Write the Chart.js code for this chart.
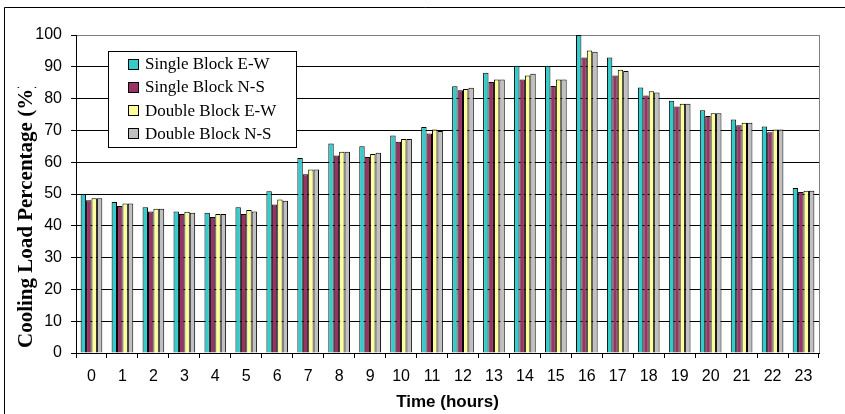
<!DOCTYPE html>
<html>
<head>
<meta charset="utf-8">
<script src="https://cdn.jsdelivr.net/npm/chart.js@4/dist/chart.umd.min.js"></script>
<style>
  html, body { margin: 0; padding: 0; background: #fff; }
  #wrap { width: 845px; height: 414px; position: relative; }
</style>
</head>
<body>
<div id="wrap"><canvas id="c" width="845" height="414"></canvas></div>
<script>
// Hourly cooling load, percent of the daily peak
const hours = ['0','1','2','3','4','5','6','7','8','9','10','11','12','13','14','15','16','17','18','19','20','21','22','23'];

const singleEW = [50.0, 47.5, 45.8, 44.5, 44.1, 45.8, 50.9, 61.3, 65.9, 65.0, 68.4, 71.1, 83.9, 88.1, 90.3, 90.3, 100, 92.9, 83.5, 79.3, 76.3, 73.4, 71.2, 51.9];
const singleNS = [48.0, 46.2, 44.5, 43.7, 42.8, 43.7, 46.7, 56.2, 62.1, 61.6, 66.4, 69.0, 82.6, 85.2, 86.0, 84.0, 92.9, 87.3, 81.0, 77.5, 74.5, 71.6, 69.4, 50.6];
const doubleEW = [48.7, 47.0, 45.4, 44.4, 43.7, 45.0, 48.3, 57.7, 63.3, 62.6, 67.3, 70.3, 83.0, 86.0, 87.3, 86.0, 95.1, 89.1, 82.3, 78.4, 75.4, 72.4, 70.3, 51.0];
const doubleNS = [48.7, 47.0, 45.4, 44.1, 43.7, 44.5, 47.9, 57.7, 63.3, 63.0, 67.3, 69.8, 83.4, 86.0, 87.8, 86.0, 94.7, 88.7, 81.9, 78.4, 75.4, 72.4, 70.3, 51.0];

const seriesNames = ['Single Block E-W', 'Single Block N-S', 'Double Block E-W', 'Double Block N-S'];
const seriesColors = ['#33CCCC', '#993366', '#FFFF99', '#C0C0C0'];
const yTicks = [0, 10, 20, 30, 40, 50, 60, 70, 80, 90, 100];

const xTitle = 'Time (hours)';
const yTitle = 'Cooling Load Percentage (%)';

const seriesValues = [singleEW, singleNS, doubleEW, doubleNS];

// Outer frame, plot border, rotated y title and boxed legend
const decorations = {
  id: 'decorations',
  beforeDraw(chart) {
    const ctx = chart.ctx;
    ctx.save();
    ctx.fillStyle = '#fff';
    ctx.fillRect(0, 0, chart.width, chart.height);
    ctx.strokeStyle = '#000';
    ctx.lineWidth = 1;
    ctx.beginPath();
    ctx.moveTo(4.5, chart.height + 5);
    ctx.lineTo(4.5, 7.5);
    ctx.lineTo(chart.width + 5, 7.5);
    ctx.stroke();
    ctx.restore();
  },
  afterDatasetsDraw(chart) {
    const ctx = chart.ctx;
    const a = chart.chartArea;
    ctx.save();
    // right-hand plot border
    ctx.strokeStyle = '#808080';
    ctx.lineWidth = 1;
    ctx.beginPath();
    ctx.moveTo(Math.round(a.right) + 0.5, a.top);
    ctx.lineTo(Math.round(a.right) + 0.5, a.bottom);
    ctx.stroke();

    // y axis title, cut off where the title area ends
    ctx.save();
    ctx.beginPath();
    ctx.rect(0, 87, 60, 300);
    ctx.clip();
    ctx.translate(32, 348);
    ctx.rotate(-Math.PI / 2);
    ctx.font = 'bold 21px "Liberation Serif", "Times New Roman", serif';
    ctx.fillStyle = '#000';
    ctx.textAlign = 'left';
    ctx.textBaseline = 'alphabetic';
    ctx.fillText(yTitle, 0, 0);
    ctx.restore();

    // legend box
    const lx = 108.5, ly = 51.5, lw = 188, lh = 96;
    ctx.fillStyle = '#fff';
    ctx.fillRect(lx, ly, lw, lh);
    ctx.strokeStyle = '#000';
    ctx.strokeRect(lx, ly, lw, lh);
    ctx.font = '17px "Liberation Serif", "Times New Roman", serif';
    ctx.textAlign = 'left';
    ctx.textBaseline = 'middle';
    chart.data.datasets.forEach((ds, i) => {
      const cy = 63.5 + i * 23.3;
      const sx = 128.5, sy = Math.round(cy - 5) + 0.5;
      ctx.fillStyle = ds.backgroundColor;
      ctx.fillRect(sx, sy, 10, 10);
      ctx.strokeStyle = '#000';
      ctx.strokeRect(sx, sy, 10, 10);
      ctx.fillStyle = '#000';
      ctx.fillText(ds.label, 145, cy + 1);
    });
    ctx.restore();
  }
};

new Chart(document.getElementById('c'), {
  type: 'bar',
  data: {
    labels: hours,
    datasets: seriesValues.map((vals, i) => ({
      label: seriesNames[i],
      data: vals,
      backgroundColor: seriesColors[i],
      borderColor: '#000',
      borderWidth: 1,
      borderSkipped: 'bottom',
      categoryPercentage: 0.70,
      barPercentage: 1.0
    }))
  },
  options: {
    responsive: false,
    animation: false,
    devicePixelRatio: 1,
    layout: { padding: { top: 35, right: 26, bottom: 0, left: 0 } },
    plugins: {
      legend: { display: false },
      tooltip: { enabled: false }
    },
    scales: {
      x: {
        offset: true,
        grid: {
          display: true,
          offset: true,
          drawOnChartArea: false,
          drawTicks: true,
          tickLength: 5,
          color: '#000'
        },
        border: { display: true, color: '#000', width: 1 },
        ticks: {
          color: '#000',
          padding: 9,
          maxRotation: 0,
          autoSkip: false,
          font: { family: '"Liberation Sans", Arial, sans-serif', size: 16 }
        },
        title: {
          display: true,
          text: xTitle,
          color: '#000',
          font: { family: '"Liberation Sans", Arial, sans-serif', size: 17, weight: 'bold', lineHeight: 1.2 },
          padding: { top: 0, bottom: 1 }
        },
        afterFit(scale) { scale.height = 61; }
      },
      y: {
        min: 0,
        max: 100,
        afterBuildTicks(scale) { scale.ticks = yTicks.map(v => ({ value: v })); },
        grid: {
          color: ctx => (ctx.tick && ctx.tick.value === 100 ? '#808080' : '#000'),
          tickColor: '#000',
          drawTicks: true,
          tickLength: 5,
          lineWidth: 1
        },
        border: { display: true, color: '#000', width: 1 },
        ticks: {
          color: '#000',
          padding: 9,
          font: { family: '"Liberation Sans", Arial, sans-serif', size: 16 }
        },
        afterFit(scale) { scale.width = 76; }
      }
    }
  },
  plugins: [decorations]
});
</script>
</body>
</html>
